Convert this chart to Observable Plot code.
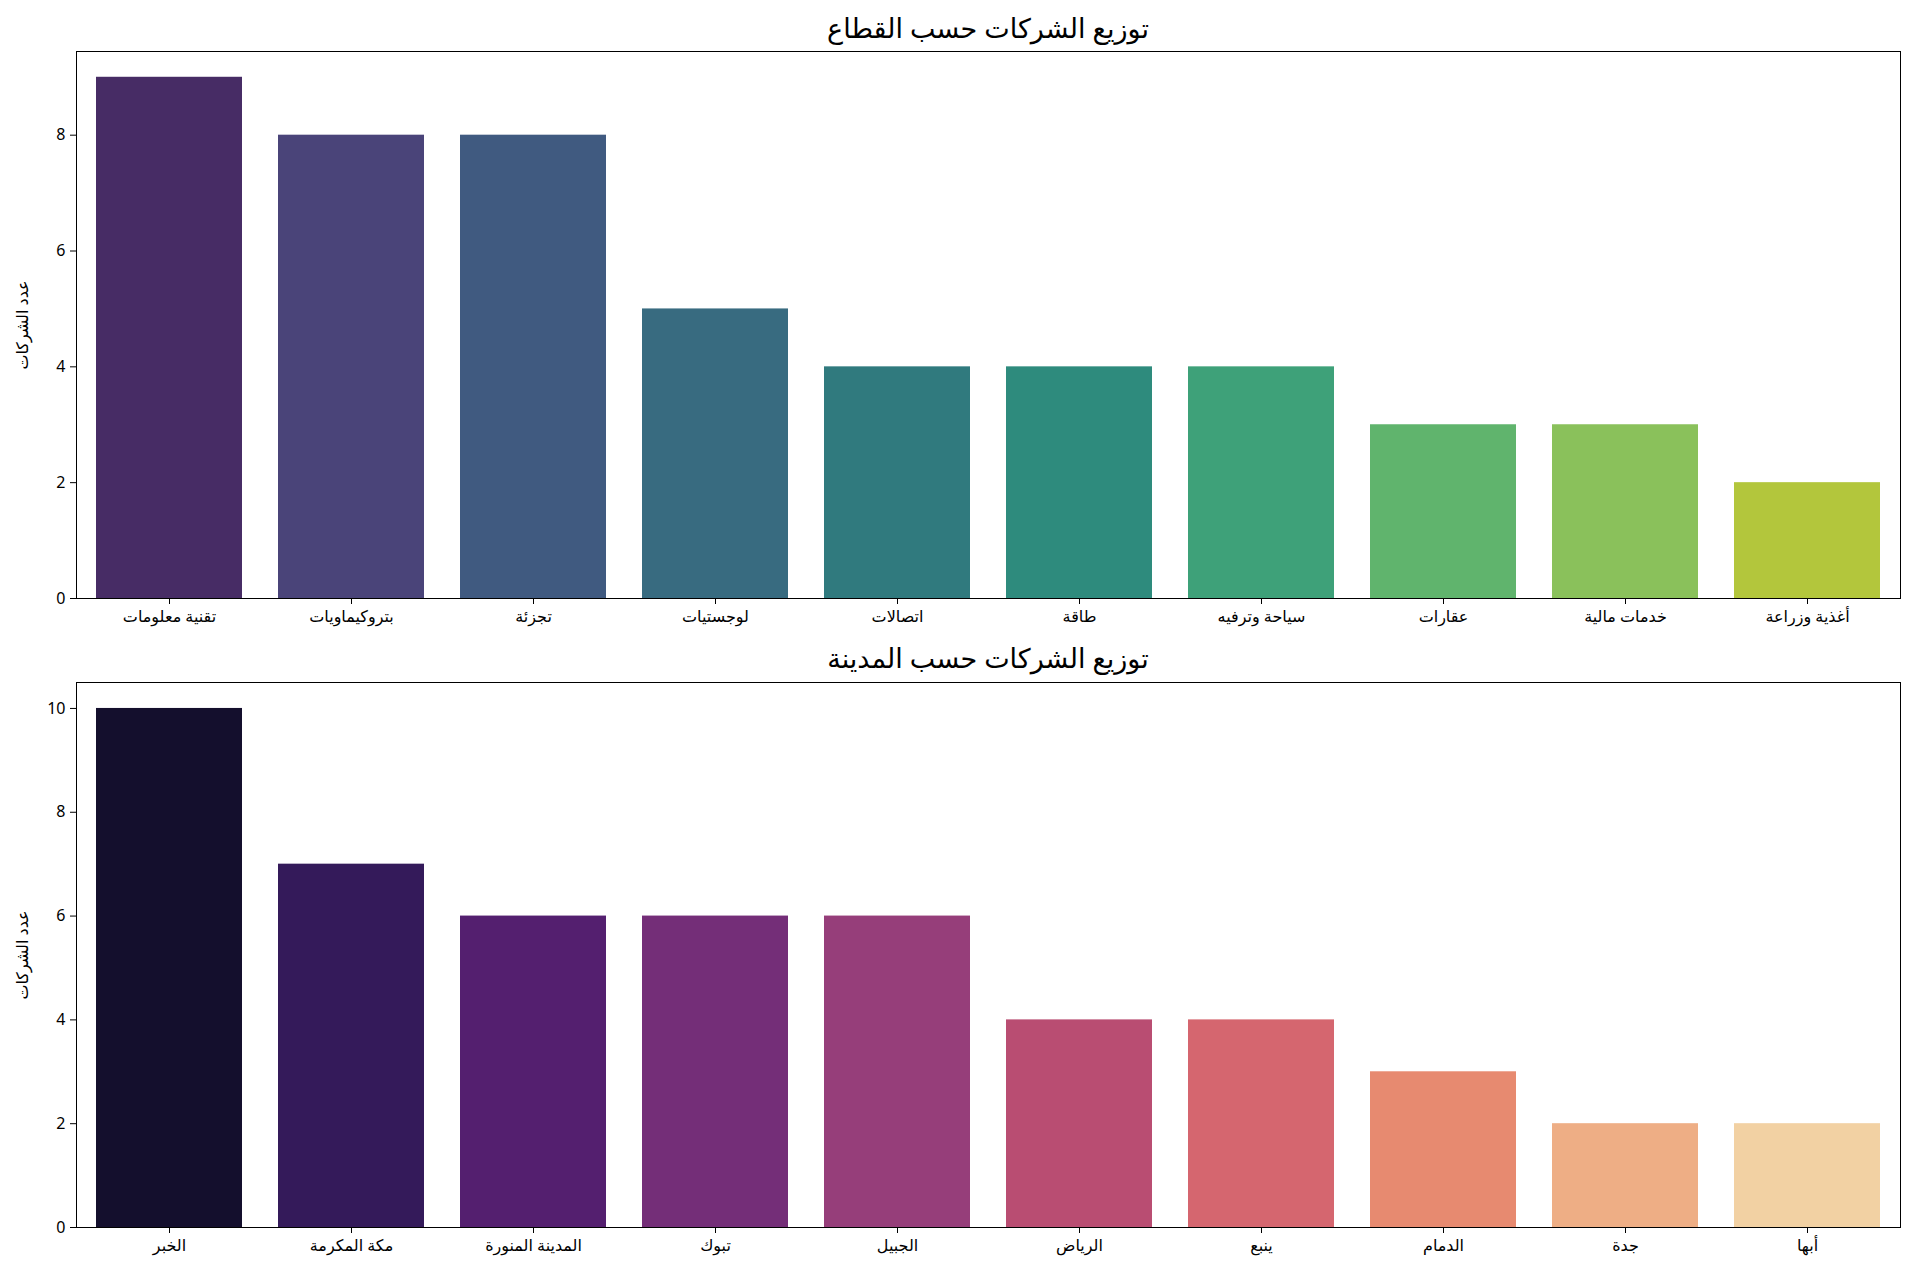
<!DOCTYPE html>
<html><head><meta charset="utf-8">
<script src="https://cdn.jsdelivr.net/npm/d3@7"></script>
<script src="https://cdn.jsdelivr.net/npm/@observablehq/plot@0.6"></script>
<style>
body{margin:0;background:#fff;font-family:"Noto Sans","DejaVu Sans",sans-serif;}
#wrap{position:relative;width:1920px;height:1280px;}
.t{position:absolute;left:76px;width:1824px;text-align:center;font-size:27px;color:#000;}
.p{position:absolute;left:0;}
</style></head><body>
<div id="wrap">
<div class="t" style="top:9px">توزيع الشركات حسب القطاع</div>
<div class="p" id="p1" style="top:0"></div>
<div class="t" style="top:639px">توزيع الشركات حسب المدينة</div>
<div class="p" id="p2" style="top:631px"></div>
</div>
<script>
const sectors=["تقنية معلومات","بتروكيماويات","تجزئة","لوجستيات","اتصالات","طاقة","سياحة وترفيه","عقارات","خدمات مالية","أغذية وزراعة"];
const sectorCounts=[9,8,8,5,4,4,4,3,3,2];
const sectorColors=["#472c65","#4a4479","#405a80","#386b80","#307a7e","#2e8b7d","#3ea179","#60b46d","#8ac15b","#b3c63c"];
const cities=["الخبر","مكة المكرمة","المدينة المنورة","تبوك","الجبيل","الرياض","ينبع","الدمام","جدة","أبها"];
const cityCounts=[10,7,6,6,6,4,4,3,2,2];
const cityColors=["#140f2d","#341a5a","#541f6f","#742e78","#963e7a","#b94d72","#d5666f","#e78a70","#eeae85","#f2d1a3"];
const yLabel="عدد الشركات";
function chart(names,vals,cols,ymax,ticks,h){
  const data=names.map((n,i)=>({n,v:vals[i],c:cols[i]}));
  return Plot.plot({
    width:1920,height:h,marginTop:51,marginBottom:42,marginLeft:76,marginRight:20,
    style:{fontFamily:"Noto Sans, DejaVu Sans, sans-serif",fontSize:"16px",color:"#000"},
    x:{domain:names,paddingInner:0.2,paddingOuter:0.1,label:null},
    y:{domain:[0,ymax],ticks,label:yLabel},
    marks:[
      Plot.barY(data,{x:"n",y:"v",fill:"c"}),
      Plot.frame({stroke:"#000"}),
      Plot.axisX({tickSize:6,fontSize:16,tickPadding:6,label:null}),
      Plot.axisY({ticks,tickSize:6,fontSize:16,tickPadding:5,label:yLabel,labelAnchor:"center",labelArrow:"none",labelOffset:60})
    ]
  });
}
document.getElementById("p1").appendChild(chart(sectors,sectorCounts,sectorColors,9.445,[0,2,4,6,8],640));
document.getElementById("p2").appendChild(chart(cities,cityCounts,cityColors,10.5,[0,2,4,6,8,10],638));
</script>
</body></html>
